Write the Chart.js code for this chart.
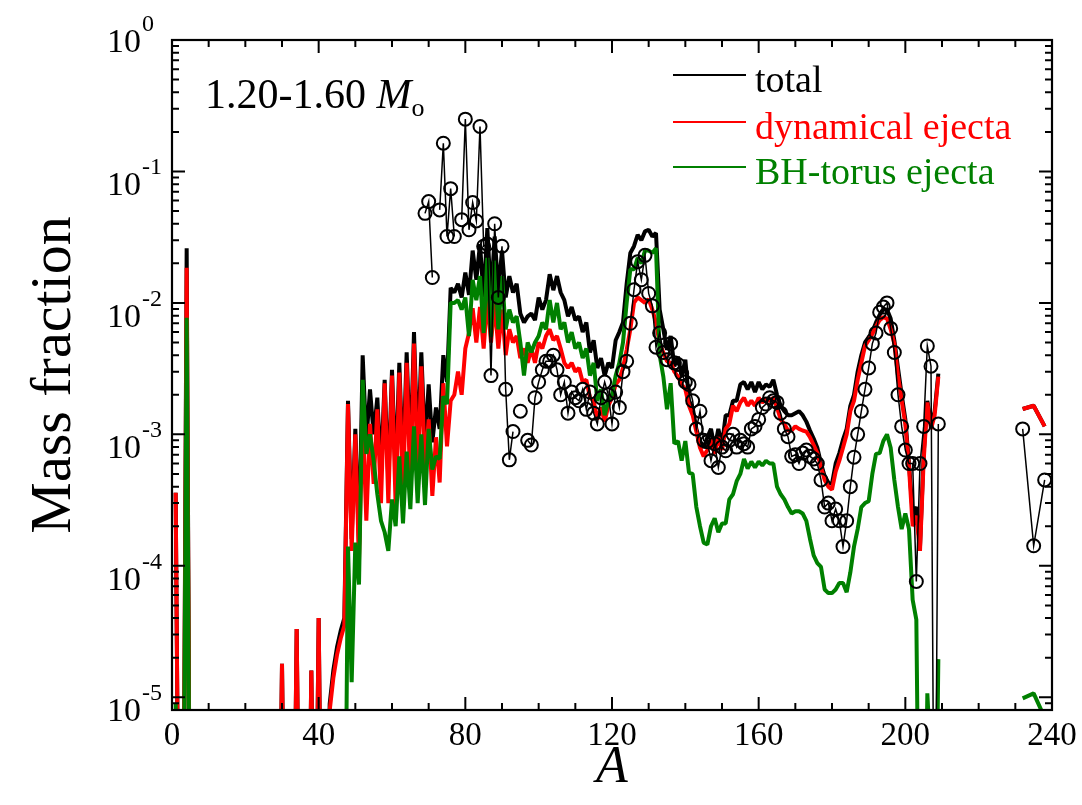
<!DOCTYPE html>
<html>
<head>
<meta charset="utf-8">
<script src="https://cdn.jsdelivr.net/npm/chart.js"></script>
<style>
  html, body { margin: 0; padding: 0; background: #fff; }
  canvas { display: block; }
</style>
</head>
<body>
<canvas id="chart" width="1082" height="805"></canvas>
<script>
// Mass fraction per mass number A, for A = 1..209 (1e-7 means "below the plotted range")
const firstA = 1;

const total = [
  3.6e-4, 1e-7, 1e-7, 2.6e-2, 1e-7, 1e-7, 1e-7, 1e-7, 1e-7, 1e-7,
  1e-7, 1e-7, 1e-7, 1e-7, 1e-7, 1e-7, 1e-7, 1e-7, 1e-7, 1e-7,
  1e-7, 1e-7, 1e-7, 1e-7, 1e-7, 1e-7, 1e-7, 1e-7, 1e-7, 1.8e-5,
  1e-7, 1e-7, 1e-7, 3.3e-5, 1e-7, 1e-7, 1e-7, 1.6e-5, 1e-7, 4.0e-5,
  1e-7, 1e-7, 8.9e-6, 1.6e-5, 2.4e-5, 3.2e-5, 4.0e-5, 1.8e-3, 1.6e-4, 1.1e-3,
  1.4e-4, 4.0e-3, 8.9e-4, 2.2e-3, 1.0e-3, 1.9e-3, 5.2e-4, 2.6e-3, 4.3e-4, 3.1e-3,
  4.8e-4, 3.5e-3, 5.5e-4, 4.2e-3, 6.5e-4, 6.0e-3, 7.4e-4, 4.2e-3, 8.3e-4, 2.4e-3,
  8.7e-4, 1.6e-3, 1.1e-3, 4.0e-3, 2.5e-3, 1.3e-2, 1.2e-2, 1.4e-2, 1.1e-2, 1.7e-2,
  1.15e-2, 2.5e-2, 1.5e-2, 2.8e-2, 1.1e-2, 3.7e-2, 1.1e-2, 3.2e-2, 1.25e-2, 2.5e-2,
  1.1e-2, 1.6e-2, 1.2e-2, 1.4e-2, 8.3e-3, 7.1e-3, 7.9e-3, 8.3e-3, 7.4e-3, 1.1e-2,
  8.9e-3, 1.05e-2, 1.65e-2, 1.25e-2, 1.6e-2, 1.2e-2, 1.05e-2, 7.9e-3, 9.3e-3, 7.4e-3,
  7.9e-3, 6.0e-3, 7.1e-3, 4.2e-3, 5.2e-3, 3.2e-3, 3.8e-3, 2.8e-3, 3.5e-3, 3.2e-3,
  5.2e-3, 6.0e-3, 7.1e-3, 1.4e-2, 2.4e-2, 2.7e-2, 3.3e-2, 3.0e-2, 3.5e-2, 3.6e-2,
  3.2e-2, 3.4e-2, 8.9e-3, 6.3e-3, 4.4e-3, 5.6e-3, 3.3e-3, 3.9e-3, 2.75e-3, 3.7e-3,
  1.8e-3, 1.6e-3, 1.1e-3, 8.9e-4, 7.9e-4, 9.5e-4, 1.1e-3, 7.9e-4, 1.1e-3, 8.3e-4,
  1.4e-3, 1.4e-3, 1.8e-3, 1.8e-3, 2.4e-3, 2.5e-3, 2.2e-3, 2.5e-3, 2.1e-3, 2.5e-3,
  2.2e-3, 2.4e-3, 2.3e-3, 2.6e-3, 2.0e-3, 1.65e-3, 1.5e-3, 1.4e-3, 1.4e-3, 1.45e-3,
  1.5e-3, 1.4e-3, 1.25e-3, 1.07e-3, 9.3e-4, 7.9e-4, 6.0e-4, 4.8e-4, 4.3e-4, 4.2e-4,
  6.0e-4, 7.2e-4, 9.1e-4, 1.1e-3, 1.65e-3, 2.0e-3, 3.0e-3, 4.0e-3, 5.0e-3, 5.5e-3,
  6.0e-3, 7.1e-3, 8.1e-3, 8.9e-3, 8.9e-3, 7.6e-3, 5.2e-3, 3.2e-3, 2.0e-3, 1.3e-3,
  6.0e-4, 2.5e-4, 2.8e-4, 1.4e-4, 7.1e-4, 1.8e-3, 1.2e-3, 1.5e-3, 2.9e-3
];

const dynamical = [
  3.6e-4, 1e-7, 1e-7, 1.85e-2, 1e-7, 1e-7, 1e-7, 1e-7, 1e-7, 1e-7,
  1e-7, 1e-7, 1e-7, 1e-7, 1e-7, 1e-7, 1e-7, 1e-7, 1e-7, 1e-7,
  1e-7, 1e-7, 1e-7, 1e-7, 1e-7, 1e-7, 1e-7, 1e-7, 1e-7, 1.8e-5,
  1e-7, 1e-7, 1e-7, 3.3e-5, 1e-7, 1e-7, 1e-7, 1.6e-5, 1e-7, 4.0e-5,
  1e-7, 1e-7, 7.9e-6, 1.4e-5, 2.1e-5, 2.8e-5, 3.5e-5, 1.7e-3, 1.3e-4, 1.0e-3,
  1.1e-4, 1.4e-3, 2.2e-4, 1.2e-3, 4.2e-4, 1.55e-3, 3.0e-4, 2.45e-3, 3.0e-4, 2.8e-3,
  2.8e-4, 2.95e-3, 3.4e-4, 3.5e-3, 3.8e-4, 4.9e-3, 4.5e-4, 3.3e-3, 5.4e-4, 1.3e-3,
  3.4e-4, 9.5e-4, 4.3e-4, 2.45e-3, 8.1e-4, 1.8e-3, 2.0e-3, 3.0e-3, 2.0e-3, 4.5e-3,
  5.9e-3, 9.1e-3, 5.0e-3, 9.3e-3, 4.5e-3, 1.1e-2, 5.0e-3, 1.0e-2, 4.5e-3, 8.9e-3,
  4.0e-3, 6.3e-3, 5.0e-3, 5.6e-3, 3.8e-3, 4.5e-3, 3.5e-3, 4.5e-3, 3.5e-3, 5.0e-3,
  4.5e-3, 5.6e-3, 6.3e-3, 5.2e-3, 5.6e-3, 4.5e-3, 3.5e-3, 3.2e-3, 3.5e-3, 3.0e-3,
  3.2e-3, 2.5e-3, 2.6e-3, 1.9e-3, 1.8e-3, 1.3e-3, 1.6e-3, 1.25e-3, 1.65e-3, 1.9e-3,
  2.4e-3, 2.6e-3, 3.2e-3, 4.4e-3, 6.3e-3, 1.0e-2, 1.1e-2, 1.05e-2, 1.0e-2, 1.07e-2,
  8.9e-3, 7.1e-3, 4.9e-3, 4.2e-3, 3.6e-3, 3.5e-3, 3.0e-3, 2.75e-3, 2.4e-3, 2.2e-3,
  1.65e-3, 1.4e-3, 1.05e-3, 7.9e-4, 6.8e-4, 7.6e-4, 9.1e-4, 7.1e-4, 9.5e-4, 7.6e-4,
  1.1e-3, 1.2e-3, 1.65e-3, 1.5e-3, 1.75e-3, 1.9e-3, 1.65e-3, 1.8e-3, 1.65e-3, 1.9e-3,
  1.75e-3, 1.85e-3, 1.8e-3, 1.9e-3, 1.6e-3, 1.3e-3, 1.2e-3, 1.07e-3, 1.07e-3, 1.15e-3,
  1.1e-3, 1.07e-3, 1.05e-3, 9.5e-4, 8.3e-4, 7.2e-4, 5.6e-4, 4.5e-4, 4.0e-4, 3.8e-4,
  5.2e-4, 6.3e-4, 7.9e-4, 1.0e-3, 1.5e-3, 1.8e-3, 2.6e-3, 3.5e-3, 4.7e-3, 5.2e-3,
  5.8e-3, 6.6e-3, 7.4e-3, 7.8e-3, 7.6e-3, 6.3e-3, 4.9e-3, 2.8e-3, 1.8e-3, 1.2e-3,
  5.6e-4, 2.0e-4, 2.4e-4, 1.3e-4, 6.3e-4, 1.75e-3, 1.1e-3, 1.4e-3, 2.75e-3
];

const torus = [
  9e-6, 1e-7, 1e-7, 7.7e-3, 1e-7, 1e-7, 1e-7, 1e-7, 1e-7, 1e-7,
  1e-7, 1e-7, 1e-7, 1e-7, 1e-7, 1e-7, 1e-7, 1e-7, 1e-7, 1e-7,
  1e-7, 1e-7, 1e-7, 1e-7, 1e-7, 1e-7, 1e-7, 1e-7, 1e-7, 1e-7,
  1e-7, 1e-7, 1e-7, 1e-7, 1e-7, 1e-7, 1e-7, 1e-7, 1e-7, 1e-7,
  1e-7, 1e-7, 1e-7, 1e-7, 1e-7, 1e-7, 1e-7, 1.4e-4, 1.3e-5, 1.5e-4,
  7.2e-5, 2.6e-3, 7.1e-4, 1.0e-3, 6.3e-4, 3.5e-4, 2.2e-4, 1.8e-4, 1.3e-4, 3.2e-4,
  2.0e-4, 6.8e-4, 2.1e-4, 7.4e-4, 2.7e-4, 1.15e-3, 3.0e-4, 1.0e-3, 2.9e-4, 1.1e-3,
  5.4e-4, 6.8e-4, 6.5e-4, 1.95e-3, 1.7e-3, 1.0e-2, 1.0e-2, 1.05e-2, 8.9e-3, 1.1e-2,
  5.6e-3, 1.5e-2, 1.05e-2, 1.6e-2, 5.9e-3, 2.2e-2, 5.5e-3, 2.1e-2, 6.3e-3, 1.6e-2,
  6.3e-3, 8.9e-3, 7.1e-3, 7.9e-3, 5.0e-3, 2.8e-3, 5.0e-3, 4.2e-3, 5.0e-3, 5.6e-3,
  7.1e-3, 6.3e-3, 1.05e-2, 7.1e-3, 1.0e-2, 6.3e-3, 7.1e-3, 5.0e-3, 6.0e-3, 4.5e-3,
  5.0e-3, 3.8e-3, 4.5e-3, 2.8e-3, 3.5e-3, 1.8e-3, 2.2e-3, 1.4e-3, 1.8e-3, 2.0e-3,
  2.8e-3, 3.5e-3, 5.0e-3, 1.0e-2, 1.8e-2, 1.8e-2, 2.2e-2, 2.0e-2, 2.5e-2, 2.5e-2,
  2.4e-2, 2.6e-2, 4.0e-3, 2.75e-3, 1.55e-3, 2.45e-3, 8.5e-4, 8.9e-4, 6.3e-4, 8.9e-4,
  5.1e-4, 5.0e-4, 2.8e-4, 2.0e-4, 1.5e-4, 1.45e-4, 2.0e-4, 2.3e-4, 1.8e-4, 2.1e-4,
  2.1e-4, 3.2e-4, 3.5e-4, 4.4e-4, 5.0e-4, 6.5e-4, 5.5e-4, 6.2e-4, 5.6e-4, 6.2e-4,
  5.8e-4, 6.3e-4, 6.0e-4, 6.0e-4, 4.0e-4, 3.5e-4, 3.2e-4, 2.8e-4, 2.5e-4, 2.6e-4,
  2.6e-4, 2.5e-4, 2.2e-4, 1.6e-4, 1.2e-4, 1.05e-4, 9.8e-5, 6.6e-5, 6.2e-5, 6.2e-5,
  6.6e-5, 7.4e-5, 7.4e-5, 6.3e-5, 8.9e-5, 1.4e-4, 1.9e-4, 2.8e-4, 3.0e-4, 3.1e-4,
  5.0e-4, 7.1e-4, 7.2e-4, 8.9e-4, 1.0e-3, 7.9e-4, 4.5e-4, 2.8e-4, 1.9e-4, 2.5e-4,
  1.9e-4, 5.5e-5, 3.9e-5, 1e-7, 1e-7, 1.07e-5, 3e-6, 1e-7, 1.95e-5
];

// solar r-process pattern (open circles), A = 69..209, null = no point
const solarFirstA = 69;
const solar = [
  4.8e-2, 5.9e-2, 1.56e-2, null, 5.1e-2, 1.64e-1, 3.2e-2, 7.4e-2, 3.2e-2, null,
  4.3e-2, 2.5e-1, 3.6e-2, 5.8e-2, 4.2e-2, 2.2e-1, 2.7e-2, 2.8e-2, 2.8e-3, 4.0e-2,
  1.1e-2, 2.7e-2, 2.2e-3, 6.4e-4, 1.05e-3, null, 1.5e-3, null, 9.0e-4, 8.3e-4,
  1.9e-3, 2.5e-3, 3.1e-3, 3.6e-3, 3.6e-3, 4.0e-3, 3.1e-3, 2.0e-3, 2.5e-3, 1.45e-3,
  2.1e-3, 1.9e-3, 1.8e-3, 2.2e-3, 1.55e-3, 2.1e-3, 1.45e-3, 1.2e-3, 1.9e-3, 2.5e-3,
  2.0e-3, 1.2e-3, 2.1e-3, 1.6e-3, 3.0e-3, 3.6e-3, 7.0e-3, 1.26e-2, 2.06e-2, 1.5e-2,
  2.3e-2, 1.18e-2, 9.5e-3, 4.6e-3, 5.9e-3, 4.2e-3, 3.7e-3, 4.9e-3, 3.5e-3, 3.4e-3,
  2.9e-3, 2.5e-3, 2.4e-3, 1.8e-3, 1.1e-3, 1.5e-3, 9.0e-4, 8.8e-4, 6.3e-4, 8.5e-4,
  5.6e-4, 8.0e-4, 7.5e-4, 9.0e-4, 1.0e-3, 8.0e-4, 9.0e-4, 8.5e-4, 8.0e-4, 1.1e-3,
  1.15e-3, 1.3e-3, 1.6e-3, 1.7e-3, 1.9e-3, 1.8e-3, 1.75e-3, 1.45e-3, 1.1e-3, 9.6e-4,
  6.8e-4, 7.0e-4, 6.0e-4, 7.2e-4, 7.6e-4, 6.8e-4, 6.5e-4, 6.0e-4, 4.5e-4, 2.8e-4,
  3.0e-4, 2.2e-4, 2.7e-4, 2.2e-4, 1.4e-4, 2.2e-4, 4.0e-4, 6.7e-4, 1.0e-3, 1.5e-3,
  2.2e-3, 3.2e-3, 4.9e-3, 5.9e-3, 8.5e-3, 9.3e-3, 1.0e-2, 6.4e-3, 4.2e-3, 2.0e-3,
  1.15e-3, 7.6e-4, 6.0e-4, 6.0e-4, 7.6e-5, 6.0e-4, 1.15e-3, 4.7e-3, 3.3e-3, 1e-7,
  1.2e-3
];

// actinides, drawn as a separate piece on the right
const tailA = [232, 235, 238];
const totalTail = [1.56e-3, 1.65e-3, 1.15e-3];
const dynamicalTail = [1.56e-3, 1.65e-3, 1.15e-3];
const torusTail = [9.8e-6, 1.07e-5, 7e-6];
const solarTail = [1.1e-3, 1.42e-4, 4.5e-4];

const xTickLabels = [0, 40, 80, 120, 160, 200, 240];
const yExponents = [0, -1, -2, -3, -4, -5];

const GREEN = '#008000';
const RED = '#ff0000';
const SERIF = '"Liberation Serif", "Times New Roman", serif';

function toPoints(startA, values, moreA, moreValues) {
  const pts = values.map((v, i) => ({ x: startA + i, y: v }));
  pts.push({ x: 220, y: null });
  moreA.forEach((a, i) => pts.push({ x: a, y: moreValues[i] }));
  return pts;
}

// frame, inward ticks, tick labels, titles and the legend
const decorations = {
  id: 'decorations',
  afterDraw(chart) {
    const { ctx, chartArea: area, scales: { x, y } } = chart;
    ctx.save();
    ctx.strokeStyle = '#000';
    ctx.lineWidth = 2.2;
    ctx.strokeRect(area.left, area.top, area.right - area.left, area.bottom - area.top);

    ctx.lineWidth = 2;
    ctx.beginPath();
    for (let v = 0; v <= 240; v += 10) {
      const px = x.getPixelForValue(v);
      const len = v % 40 === 0 ? 13 : 7;
      ctx.moveTo(px, area.bottom); ctx.lineTo(px, area.bottom - len);
      ctx.moveTo(px, area.top); ctx.lineTo(px, area.top + len);
    }
    for (let e = -6; e <= 0; e++) {
      for (let m = 1; m <= 9; m++) {
        const v = m * Math.pow(10, e);
        if (v < y.min * 0.999 || v > y.max * 1.001) continue;
        const py = y.getPixelForValue(v);
        const len = m === 1 ? 13 : 7;
        ctx.moveTo(area.left, py); ctx.lineTo(area.left + len, py);
        ctx.moveTo(area.right, py); ctx.lineTo(area.right - len, py);
      }
    }
    ctx.stroke();

    ctx.fillStyle = '#000';
    ctx.font = '33px ' + SERIF;
    ctx.textAlign = 'center';
    ctx.textBaseline = 'alphabetic';
    xTickLabels.forEach(v => ctx.fillText(String(v), x.getPixelForValue(v), 745));

    yExponents.forEach(e => {
      // the top label sits a little higher so it stays inside the page
      const py = y.getPixelForValue(Math.pow(10, e)) + (e === 0 ? -12 : 0);
      ctx.font = '34px ' + SERIF;
      ctx.textAlign = 'right';
      ctx.fillText('10', 141, py + 24);
      ctx.font = '24px ' + SERIF;
      ctx.textAlign = 'left';
      ctx.fillText(e === 0 ? '0' : '-' + (-e), 142, py + 3);
    });

    // axis titles
    ctx.font = 'italic 52px ' + SERIF;
    ctx.textAlign = 'center';
    ctx.fillText('A', (area.left + area.right) / 2, 782);
    ctx.save();
    ctx.translate(55, (area.top + area.bottom) / 2);
    ctx.rotate(-Math.PI / 2);
    ctx.font = '58px ' + SERIF;
    ctx.textBaseline = 'middle';
    ctx.fillText('Mass fraction', 0, 0);
    ctx.restore();

    // mass range label
    ctx.textAlign = 'left';
    ctx.font = '42px ' + SERIF;
    const lbl = '1.20-1.60 ';
    ctx.fillText(lbl, 205, 108);
    let cx = 205 + ctx.measureText(lbl).width;
    ctx.font = 'italic 42px ' + SERIF;
    ctx.fillText('M', cx, 108);
    cx += ctx.measureText('M').width;
    ctx.font = '26px ' + SERIF;
    ctx.fillText('o', cx, 116);

    // legend
    const items = [
      { text: 'total', color: '#000', y: 75 },
      { text: 'dynamical ejecta', color: RED, y: 122 },
      { text: 'BH-torus ejecta', color: GREEN, y: 167 }
    ];
    ctx.font = '38px ' + SERIF;
    items.forEach(it => {
      ctx.strokeStyle = it.color;
      ctx.lineWidth = 2;
      ctx.beginPath();
      ctx.moveTo(673, it.y); ctx.lineTo(746, it.y);
      ctx.stroke();
      ctx.fillStyle = it.color;
      ctx.fillText(it.text, 755, it.y + 17);
    });
    ctx.restore();
  }
};

const lineStyle = { pointRadius: 0, borderWidth: 4, tension: 0, borderJoinStyle: 'bevel', spanGaps: false };

new Chart(document.getElementById('chart'), {
  type: 'line',
  data: {
    datasets: [
      {
        label: 'solar r',
        data: toPoints(solarFirstA, solar, tailA, solarTail),
        borderColor: '#000',
        borderWidth: 1.5,
        pointRadius: 6.5,
        pointBorderWidth: 2,
        pointBackgroundColor: 'rgba(0,0,0,0)',
        pointBorderColor: '#000',
        tension: 0,
        spanGaps: false
      },
      Object.assign({ label: 'BH-torus ejecta', data: toPoints(firstA, torus, tailA, torusTail), borderColor: GREEN }, lineStyle),
      Object.assign({ label: 'dynamical ejecta', data: toPoints(firstA, dynamical, tailA, dynamicalTail), borderColor: RED }, lineStyle),
      Object.assign({ label: 'total', data: toPoints(firstA, total, tailA, totalTail), borderColor: '#000' }, lineStyle)
    ]
  },
  options: {
    responsive: false,
    devicePixelRatio: 1,
    animation: false,
    layout: { padding: { left: 172, top: 40, right: 30, bottom: 95 } },
    scales: {
      x: { type: 'linear', min: 0, max: 240, display: false },
      y: { type: 'logarithmic', min: 8e-6, max: 1, display: false }
    },
    plugins: { legend: { display: false }, tooltip: { enabled: false } }
  },
  plugins: [decorations]
});
</script>
</body>
</html>
